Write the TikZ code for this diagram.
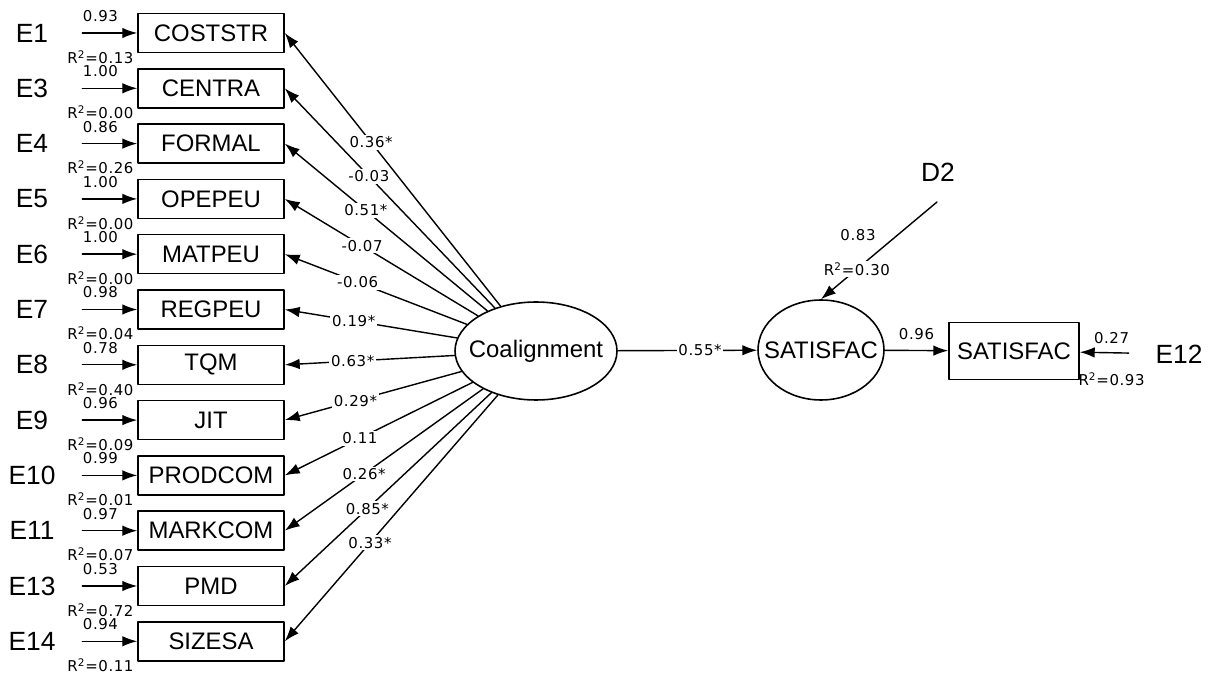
\documentclass[tikz,border=0pt]{standalone}
\usepackage{fontspec}
\setmainfont{Liberation Sans}
\newfontfamily\coeffont[LetterSpace=4]{DejaVu Sans}
\usepackage{tikz}
\usetikzlibrary{arrows.meta, shapes.geometric}

\begin{document}
\begin{tikzpicture}[
        x=0.02cm,
        y=-0.02cm,
        line join=round,
        line cap=round,
        obsbox/.style={draw, line width=0.9pt, minimum width=2.92cm,
            minimum height=0.78cm, inner sep=0pt,
            font=\fontsize{13.6}{15}\selectfont},
        latent/.style={draw, ellipse, line width=0.9pt, inner sep=0pt,
            font=\fontsize{13.6}{15}\selectfont},
        errlbl/.style={minimum width=2cm, inner sep=0pt,
            font=\fontsize{15}{17}\selectfont},
        coef/.style={inner sep=1pt, font=\coeffont\fontsize{8.5}{9}\selectfont},
        arr/.style={-{Latex[length=8.5pt, width=6pt]}, line width=0.8pt}
    ]

        \useasboundingbox (0,0) rectangle (1215,675);

        % =================================
        % BIẾN QUAN SÁT (CỘT TRÁI)
        % =================================
        \node[obsbox] (costst)  at (211,33)    {COSTSTR};
        \node[obsbox] (centra)  at (211,88.3)  {CENTRA};
        \node[obsbox] (formal)  at (211,143.6) {FORMAL};
        \node[obsbox] (opepeu)  at (211,198.9) {OPEPEU};
        \node[obsbox] (matpeu)  at (211,254.2) {MATPEU};
        \node[obsbox] (regpeu)  at (211,309.5) {REGPEU};
        \node[obsbox] (tqm)     at (211,364.8) {TQM};
        \node[obsbox] (jit)     at (211,420.1) {JIT};
        \node[obsbox] (prodcom) at (211,475.4) {PRODCOM};
        \node[obsbox] (markcom) at (211,530.7) {MARKCOM};
        \node[obsbox] (pmd)     at (211,586)   {PMD};
        \node[obsbox] (sizesa)  at (211,641.3) {SIZESA};

        % =================================
        % SAI SỐ E
        % =================================
        \node[errlbl] (e1)  at (32,33)    {E1};
        \node[errlbl] (e3)  at (32,88.3)  {E3};
        \node[errlbl] (e4)  at (32,143.6) {E4};
        \node[errlbl] (e5)  at (32,198.9) {E5};
        \node[errlbl] (e6)  at (32,254.2) {E6};
        \node[errlbl] (e7)  at (32,309.5) {E7};
        \node[errlbl] (e8)  at (32,364.8) {E8};
        \node[errlbl] (e9)  at (32,420.1) {E9};
        \node[errlbl] (e10) at (32,475.4) {E10};
        \node[errlbl] (e11) at (32,530.7) {E11};
        \node[errlbl] (e13) at (32,586)   {E13};
        \node[errlbl] (e14) at (32,641.3) {E14};

        % mũi tên E -> biến
        \draw[arr] (e1) -- (costst)
            node[coef, pos=0.33, yshift=0.34cm] {0.93}
            node[coef, pos=0.33, yshift=-0.48cm] {R\textsuperscript{2}=0.13};
        \draw[arr] (e3) -- (centra)
            node[coef, pos=0.33, yshift=0.34cm] {1.00}
            node[coef, pos=0.33, yshift=-0.48cm] {R\textsuperscript{2}=0.00};
        \draw[arr] (e4) -- (formal)
            node[coef, pos=0.33, yshift=0.34cm] {0.86}
            node[coef, pos=0.33, yshift=-0.48cm] {R\textsuperscript{2}=0.26};
        \draw[arr] (e5) -- (opepeu)
            node[coef, pos=0.33, yshift=0.34cm] {1.00}
            node[coef, pos=0.33, yshift=-0.48cm] {R\textsuperscript{2}=0.00};
        \draw[arr] (e6) -- (matpeu)
            node[coef, pos=0.33, yshift=0.34cm] {1.00}
            node[coef, pos=0.33, yshift=-0.48cm] {R\textsuperscript{2}=0.00};
        \draw[arr] (e7) -- (regpeu)
            node[coef, pos=0.33, yshift=0.34cm] {0.98}
            node[coef, pos=0.33, yshift=-0.48cm] {R\textsuperscript{2}=0.04};
        \draw[arr] (e8) -- (tqm)
            node[coef, pos=0.33, yshift=0.34cm] {0.78}
            node[coef, pos=0.33, yshift=-0.48cm] {R\textsuperscript{2}=0.40};
        \draw[arr] (e9) -- (jit)
            node[coef, pos=0.33, yshift=0.34cm] {0.96}
            node[coef, pos=0.33, yshift=-0.48cm] {R\textsuperscript{2}=0.09};
        \draw[arr] (e10) -- (prodcom)
            node[coef, pos=0.33, yshift=0.34cm] {0.99}
            node[coef, pos=0.33, yshift=-0.48cm] {R\textsuperscript{2}=0.01};
        \draw[arr] (e11) -- (markcom)
            node[coef, pos=0.33, yshift=0.34cm] {0.97}
            node[coef, pos=0.33, yshift=-0.48cm] {R\textsuperscript{2}=0.07};
        \draw[arr] (e13) -- (pmd)
            node[coef, pos=0.33, yshift=0.34cm] {0.53}
            node[coef, pos=0.33, yshift=-0.48cm] {R\textsuperscript{2}=0.72};
        \draw[arr] (e14) -- (sizesa)
            node[coef, pos=0.33, yshift=0.34cm] {0.94}
            node[coef, pos=0.33, yshift=-0.48cm] {R\textsuperscript{2}=0.11};

        % =================================
        % BIẾN TIỀM ẨN
        % =================================
        \node[latent, minimum width=3.24cm, minimum height=1.96cm]
            (coal) at (536,351) {\makebox[0pt]{Coalignment}};
        \node[latent, minimum width=2.52cm, minimum height=2cm]
            (satlat) at (821,350) {\makebox[0pt]{SATISFAC}};
        \node[obsbox, minimum width=2.6cm, minimum height=1.14cm]
            (satobs) at (1014,351) {SATISFAC};

        \node[errlbl] (e12) at (1179,354) {E12};
        \node[errlbl, minimum width=0pt] (d2) at (938,172) {D2};
        \coordinate (d2tail) at (937,202);

        % =================================
        % HỆ SỐ TẢI Coalignment -> biến
        % =================================
        \draw[arr] (coal) -- (costst.east)  node[coef, pos=0.6, fill=white] {0.36*};
        \draw[arr] (coal) -- (centra.east)  node[coef, pos=0.6, fill=white] {-0.03};
        \draw[arr] (coal) -- (formal.east)  node[coef, pos=0.6, fill=white] {0.51*};
        \draw[arr] (coal) -- (opepeu.east)  node[coef, pos=0.6, fill=white] {-0.07};
        \draw[arr] (coal) -- (matpeu.east)  node[coef, pos=0.6, fill=white] {-0.06};
        \draw[arr] (coal) -- (regpeu.east)  node[coef, pos=0.6, fill=white] {0.19*};
        \draw[arr] (coal) -- (tqm.east)     node[coef, pos=0.6, fill=white] {0.63*};
        \draw[arr] (coal) -- (jit.east)     node[coef, pos=0.6, fill=white] {0.29*};
        \draw[arr] (coal) -- (prodcom.east) node[coef, pos=0.6, fill=white] {0.11};
        \draw[arr] (coal) -- (markcom.east) node[coef, pos=0.6, fill=white] {0.26*};
        \draw[arr] (coal) -- (pmd.east)     node[coef, pos=0.6, fill=white] {0.85*};
        \draw[arr] (coal) -- (sizesa.east)  node[coef, pos=0.6, fill=white] {0.33*};

        % =================================
        % PHẦN BÊN PHẢI
        % =================================
        \draw[arr] (coal) -- (satlat)
            node[coef, pos=0.59, fill=white] {0.55*};
        \draw[arr] (satlat) -- (satobs)
            node[coef, midway, yshift=0.32cm] {0.96};
        \draw[arr] (e12) -- (satobs)
            node[coef, pos=0.35, yshift=0.3cm] {0.27}
            node[coef, pos=0.35, yshift=-0.52cm] {R\textsuperscript{2}=0.93};

        % D2 -> SATISFAC
        \draw[arr] (d2tail) -- (satlat.north)
            node[coef, pos=0.69, fill=white] {R\textsuperscript{2}=0.30};
        \node[coef] (d2coef) at (858,235) {0.83};

    \end{tikzpicture}
\end{document}
